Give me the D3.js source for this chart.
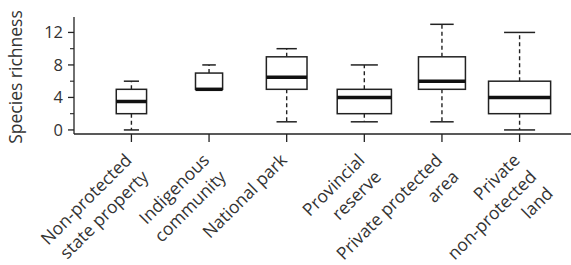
<!DOCTYPE html>
<html>
<head>
<meta charset="utf-8">
<script src="https://cdn.jsdelivr.net/npm/d3@7"></script>
<style>
  body { margin: 0; background: #fff; }
  text { font-family: "Open Sans", sans-serif; fill: #333; }
</style>
</head>
<body>
<script>
// categories (multi-line labels) and box statistics
var categories = [
    ["Non-protected", "state property"],
    ["Indigenous", "community"],
    ["National park"],
    ["Provincial", "reserve"],
    ["Private protected", "area"],
    ["Private", "non-protected", "land"]
];
var lowWhisker = [0, 5, 1, 1, 1, 0];
var q1 = [2, 5, 5, 2, 5, 2];
var medians = [3.5, 5, 6.5, 4, 6, 4];
var q3 = [5, 7, 9, 5, 9, 6];
var highWhisker = [6, 8, 10, 8, 13, 12];
// sample sizes, boxes drawn with width proportional to sqrt(n)
var sampleSize = [5, 4, 9, 16, 12, 21];
var yMajorTicks = [0, 4, 8, 12];
var yMinorTicks = [2, 6, 10];

var width = 571, height = 265;
var margin = {top: 17, left: 74, bottom: 131};

var svg = d3.select("body").append("svg")
    .attr("width", width)
    .attr("height", height);

var names = categories.map(function (d) { return d.join(" "); });

var x = d3.scalePoint()
    .domain(names)
    .range([92.6, 558.4])
    .padding(0.5);

var y = d3.scaleLinear()
    .domain([-0.5, 13.9])
    .range([height - margin.bottom, margin.top]);

var boxWidth = d3.scaleSqrt()
    .domain([0, d3.max(sampleSize)])
    .range([0, x.step() * 0.8]);

var baseY = height - margin.bottom;

// y axis
var yAxis = svg.append("g")
    .attr("transform", "translate(" + margin.left + ",0)");
yAxis.append("line")
    .attr("x1", 0).attr("x2", 0)
    .attr("y1", margin.top).attr("y2", baseY)
    .attr("stroke", "#222").attr("stroke-width", 1.3);
yAxis.selectAll(".major").data(yMajorTicks).enter().append("line")
    .attr("x1", -6).attr("x2", 0)
    .attr("y1", y).attr("y2", y)
    .attr("stroke", "#222").attr("stroke-width", 1.3);
yAxis.selectAll(".minor").data(yMinorTicks).enter().append("line")
    .attr("x1", -4).attr("x2", 0)
    .attr("y1", y).attr("y2", y)
    .attr("stroke", "#222").attr("stroke-width", 1.1);
yAxis.selectAll("text").data(yMajorTicks).enter().append("text")
    .attr("x", -11)
    .attr("y", y)
    .attr("dy", "0.36em")
    .attr("text-anchor", "end")
    .attr("font-size", "16.5px")
    .text(String);

svg.append("text")
    .attr("transform", "translate(22,77) rotate(-90)")
    .attr("text-anchor", "middle")
    .attr("font-size", "17.5px")
    .text("Species richness");

// x axis
svg.append("line")
    .attr("x1", margin.left).attr("x2", width)
    .attr("y1", baseY).attr("y2", baseY)
    .attr("stroke", "#222").attr("stroke-width", 1.3);

var xTicks = svg.selectAll(".xtick").data(categories).enter().append("g")
    .attr("class", "xtick")
    .attr("transform", function (d, i) { return "translate(" + x(names[i]) + "," + baseY + ")"; });

xTicks.append("line")
    .attr("y1", 0).attr("y2", 8)
    .attr("stroke", "#222").attr("stroke-width", 1.3);

// first line hangs under the tick, further lines step down-right
var lineH = 23.5;
xTicks.append("text")
    .attr("transform", "translate(-3,23) rotate(-45)")
    .attr("text-anchor", "end")
    .attr("font-size", "17.5px")
    .selectAll("tspan")
    .data(function (d) { return d.map(function (t, j) { return {t: t, j: j}; }); })
    .enter().append("tspan")
    .attr("x", 0)
    .attr("y", function (d) { return d.j * lineH; })
    .attr("dy", "0.35em")
    .text(function (d) { return d.t; });

// boxes
var boxes = svg.selectAll(".box").data(names).enter().append("g")
    .attr("class", "box")
    .attr("transform", function (d) { return "translate(" + x(d) + ",0)"; });

boxes.append("line")
    .attr("y1", function (d, i) { return y(q3[i]); })
    .attr("y2", function (d, i) { return y(highWhisker[i]); })
    .attr("stroke", "#222").attr("stroke-width", 1.4)
    .attr("stroke-dasharray", "4,3");
boxes.append("line")
    .attr("y1", function (d, i) { return y(q1[i]); })
    .attr("y2", function (d, i) { return y(lowWhisker[i]); })
    .attr("stroke", "#222").attr("stroke-width", 1.4)
    .attr("stroke-dasharray", "4,3");

boxes.append("line")
    .attr("x1", function (d, i) { return -boxWidth(sampleSize[i]) / 4; })
    .attr("x2", function (d, i) { return boxWidth(sampleSize[i]) / 4; })
    .attr("y1", function (d, i) { return y(highWhisker[i]); })
    .attr("y2", function (d, i) { return y(highWhisker[i]); })
    .attr("stroke", "#222").attr("stroke-width", 1.5);
boxes.filter(function (d, i) { return lowWhisker[i] < q1[i]; })
    .append("line")
    .attr("x1", function (d) { return -boxWidth(sampleSize[names.indexOf(d)]) / 4; })
    .attr("x2", function (d) { return boxWidth(sampleSize[names.indexOf(d)]) / 4; })
    .attr("y1", function (d) { return y(lowWhisker[names.indexOf(d)]); })
    .attr("y2", function (d) { return y(lowWhisker[names.indexOf(d)]); })
    .attr("stroke", "#222").attr("stroke-width", 1.5);

boxes.append("rect")
    .attr("x", function (d, i) { return -boxWidth(sampleSize[i]) / 2; })
    .attr("width", function (d, i) { return boxWidth(sampleSize[i]); })
    .attr("y", function (d, i) { return y(q3[i]); })
    .attr("height", function (d, i) { return y(q1[i]) - y(q3[i]); })
    .attr("fill", "#fff")
    .attr("stroke", "#222").attr("stroke-width", 1.5);

boxes.append("line")
    .attr("x1", function (d, i) { return -boxWidth(sampleSize[i]) / 2; })
    .attr("x2", function (d, i) { return boxWidth(sampleSize[i]) / 2; })
    .attr("y1", function (d, i) { return y(medians[i]); })
    .attr("y2", function (d, i) { return y(medians[i]); })
    .attr("stroke", "#111").attr("stroke-width", 3.5);
</script>
</body>
</html>
